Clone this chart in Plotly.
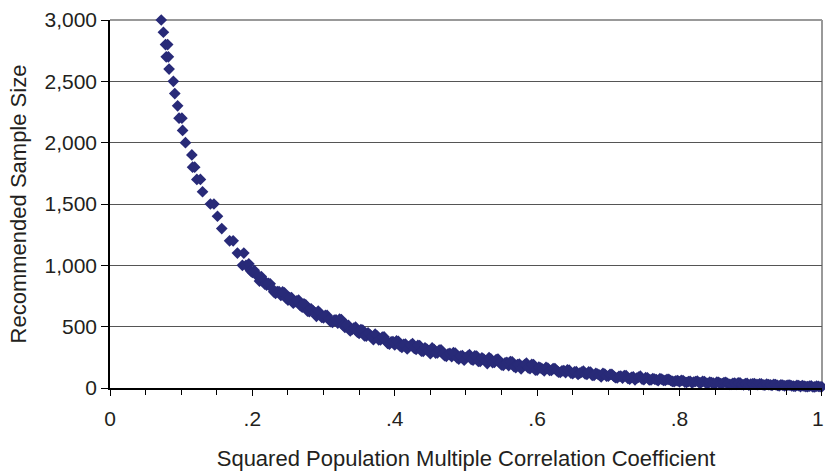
import plotly.graph_objects as go

# Upper discrete points (R^2, recommended N)
upper_x = [0.072, 0.075, 0.078, 0.081, 0.079, 0.082, 0.083, 0.089, 0.091, 0.095,
           0.097, 0.101, 0.102, 0.106, 0.115, 0.116, 0.119, 0.122, 0.127, 0.130,
           0.141, 0.146, 0.151, 0.157, 0.168, 0.173, 0.179, 0.188, 0.186, 0.191]
upper_y = [3000, 2900, 2800, 2800, 2700, 2700, 2600, 2500, 2400, 2300,
           2200, 2200, 2100, 2000, 1900, 1800, 1800, 1700, 1700, 1600,
           1500, 1500, 1400, 1300, 1200, 1200, 1100, 1100, 1000, 1000]

# Dense band of points (first set)
band_x = [0.195, 0.200, 0.205, 0.210, 0.215, 0.220, 0.225, 0.230, 0.235, 0.240,
          0.245, 0.250, 0.255, 0.260, 0.265, 0.270, 0.275, 0.280, 0.285, 0.290,
          0.295, 0.300, 0.305, 0.310, 0.315, 0.320, 0.325, 0.330, 0.335, 0.340,
          0.345, 0.350, 0.355, 0.360, 0.365, 0.370, 0.375, 0.380, 0.385, 0.390,
          0.395, 0.400, 0.405, 0.410, 0.415, 0.420, 0.425, 0.430, 0.435, 0.440,
          0.445, 0.450, 0.455, 0.460, 0.465, 0.470, 0.475, 0.480, 0.485, 0.490,
          0.495, 0.500, 0.505, 0.510, 0.515, 0.520, 0.525, 0.530, 0.535, 0.540,
          0.545, 0.550, 0.555, 0.560, 0.565, 0.570, 0.575, 0.580, 0.585, 0.590,
          0.595, 0.600, 0.605, 0.610, 0.615, 0.620, 0.625, 0.630, 0.635, 0.640,
          0.645, 0.650, 0.655, 0.660, 0.665, 0.670, 0.675, 0.680, 0.685, 0.690,
          0.695, 0.700, 0.705, 0.710, 0.715, 0.720, 0.725, 0.730, 0.735, 0.740,
          0.745, 0.750, 0.755, 0.760, 0.765, 0.770, 0.775, 0.780, 0.785, 0.790,
          0.795, 0.800, 0.805, 0.810, 0.815, 0.820, 0.825, 0.830, 0.835, 0.840,
          0.845, 0.850, 0.855, 0.860, 0.865, 0.870, 0.875, 0.880, 0.885, 0.890,
          0.895, 0.900, 0.905, 0.910, 0.915, 0.920, 0.925, 0.930, 0.935, 0.940,
          0.945, 0.950, 0.955, 0.960, 0.965, 0.970, 0.975, 0.980, 0.985, 0.990,
          0.995, 1.000]
band_y = [1012, 942, 936, 872, 885, 839, 850, 784, 786, 754,
          776, 717, 736, 704, 716, 659, 677, 622, 631, 584,
          611, 572, 592, 540, 554, 529, 558, 494, 510, 478,
          496, 446, 472, 422, 436, 394, 426, 393, 416, 364,
          377, 351, 381, 330, 358, 337, 361, 315, 345, 299,
          318, 280, 316, 286, 312, 263, 279, 255, 285, 236,
          265, 247, 272, 228, 260, 216, 236, 199, 237, 209,
          236, 188, 206, 183, 214, 165, 195, 176, 202, 158,
          190, 146, 164, 140, 162, 143, 159, 130, 140, 126,
          145, 116, 133, 122, 138, 111, 129, 102, 114, 91,
          114, 96, 112, 84, 95, 81, 101, 72, 90, 80,
          96, 69, 83, 67, 73, 60, 73, 62, 71, 54,
          59, 50, 61, 45, 55, 49, 57, 42, 53, 38,
          44, 32, 46, 36, 46, 30, 38, 30, 42, 26,
          37, 31, 36, 27, 34, 24, 27, 22, 28, 18,
          23, 19, 24, 15, 21, 12, 16, 11, 17, 9,
          14, 10]

# Dense band of points (second, interleaved set)
band2_x = [0.1975, 0.2025, 0.2075, 0.2125, 0.2175, 0.2225, 0.2275, 0.2325, 0.2375, 0.2425,
           0.2475, 0.2525, 0.2575, 0.2625, 0.2675, 0.2725, 0.2775, 0.2825, 0.2875, 0.2925,
           0.2975, 0.3025, 0.3075, 0.3125, 0.3175, 0.3225, 0.3275, 0.3325, 0.3375, 0.3425,
           0.3475, 0.3525, 0.3575, 0.3625, 0.3675, 0.3725, 0.3775, 0.3825, 0.3875, 0.3925,
           0.3975, 0.4025, 0.4075, 0.4125, 0.4175, 0.4225, 0.4275, 0.4325, 0.4375, 0.4425,
           0.4475, 0.4525, 0.4575, 0.4625, 0.4675, 0.4725, 0.4775, 0.4825, 0.4875, 0.4925,
           0.4975, 0.5025, 0.5075, 0.5125, 0.5175, 0.5225, 0.5275, 0.5325, 0.5375, 0.5425,
           0.5475, 0.5525, 0.5575, 0.5625, 0.5675, 0.5725, 0.5775, 0.5825, 0.5875, 0.5925,
           0.5975, 0.6025, 0.6075, 0.6125, 0.6175, 0.6225, 0.6275, 0.6325, 0.6375, 0.6425,
           0.6475, 0.6525, 0.6575, 0.6625, 0.6675, 0.6725, 0.6775, 0.6825, 0.6875, 0.6925,
           0.6975, 0.7025, 0.7075, 0.7125, 0.7175, 0.7225, 0.7275, 0.7325, 0.7375, 0.7425,
           0.7475, 0.7525, 0.7575, 0.7625, 0.7675, 0.7725, 0.7775, 0.7825, 0.7875, 0.7925,
           0.7975, 0.8025, 0.8075, 0.8125, 0.8175, 0.8225, 0.8275, 0.8325, 0.8375, 0.8425,
           0.8475, 0.8525, 0.8575, 0.8625, 0.8675, 0.8725, 0.8775, 0.8825, 0.8875, 0.8925,
           0.8975, 0.9025, 0.9075, 0.9125, 0.9175, 0.9225, 0.9275, 0.9325, 0.9375, 0.9425,
           0.9475, 0.9525, 0.9575, 0.9625, 0.9675, 0.9725, 0.9775, 0.9825, 0.9875, 0.9925,
           0.9975]
band2_y = [955, 959, 908, 908, 846, 854, 813, 772, 785, 783,
           732, 737, 691, 711, 671, 686, 627, 646, 611, 626,
           575, 592, 562, 534, 556, 561, 512, 513, 465, 488,
           455, 477, 425, 449, 419, 439, 393, 414, 386, 357,
           379, 384, 341, 355, 318, 350, 322, 348, 300, 328,
           303, 327, 285, 309, 283, 258, 282, 288, 246, 261,
           227, 260, 234, 262, 216, 246, 221, 247, 207, 232,
           208, 184, 209, 216, 175, 191, 156, 190, 164, 192,
           146, 170, 154, 168, 143, 158, 142, 127, 142, 147,
           122, 131, 110, 130, 115, 131, 103, 120, 105, 120,
           96, 111, 96, 82, 98, 102, 78, 87, 67, 88,
           73, 84, 67, 77, 68, 76, 62, 70, 61, 52,
           60, 62, 48, 53, 42, 53, 44, 54, 38, 48,
           40, 49, 36, 45, 37, 29, 40, 43, 29, 35,
           24, 34, 29, 34, 25, 31, 25, 30, 21, 26,
           17, 23, 18, 14, 19, 20, 12, 15, 8, 15,
           10]

x_tickvals = [0, 0.2, 0.4, 0.6, 0.8, 1.0]
x_ticktext = ["0", ".2", ".4", ".6", ".8", ""]
last_tick_label = "1"   # drawn as an annotation so it stays inside the page

COLOR = "#282a78"
TXT = "#231f20"
FONT = "Liberation Sans, Arial, sans-serif"

all_x = upper_x + band_x + band2_x
all_y = upper_y + band_y + band2_y

fig = go.Figure()
fig.add_trace(go.Scatter(
    x=all_x, y=all_y, mode="markers",
    marker=dict(symbol="diamond", size=9, color=COLOR, line=dict(width=0)),
    cliponaxis=False, showlegend=False,
))

fig.update_layout(
    width=825, height=471,
    margin=dict(l=110, r=3, t=20, b=83, autoexpand=False),
    paper_bgcolor="white", plot_bgcolor="white",
    font=dict(family=FONT, size=21, color=TXT),
    xaxis=dict(
        range=[0, 1.0002], tickvals=x_tickvals, ticktext=x_ticktext,
        automargin=False,
        ticks="outside", ticklen=6, tickcolor="black", tickwidth=1,
        ticklabelstandoff=5, ticklabeloverflow="allow",
        showline=True, linecolor="black", linewidth=1.5,
        showgrid=False, zeroline=False,
        minor=dict(dtick=0.05, tick0=0, ticks="outside", ticklen=5,
                   tickcolor="black", tickwidth=1, showgrid=False),
        title=dict(text="Squared Population Multiple Correlation Coefficient",
                   font=dict(size=22, color=TXT), standoff=24),
        tickfont=dict(size=21, color=TXT),
    ),
    yaxis=dict(
        range=[0, 3000], dtick=500, tickformat=",",
        automargin=False,
        ticks="outside", ticklen=7, tickcolor="black", tickwidth=1,
        showline=True, linecolor="black", linewidth=1.5,
        showgrid=True, gridcolor="#555555", gridwidth=1, zeroline=False,
        title=dict(text="Recommended Sample Size",
                   font=dict(size=22, color=TXT), standoff=12),
        tickfont=dict(size=21, color=TXT),
    ),
    annotations=[
        dict(text=last_tick_label, x=x_tickvals[-1], xref="x", y=0, yref="paper",
             xanchor="center", yanchor="middle", xshift=-4, yshift=-30,
             showarrow=False, font=dict(size=21, color=TXT)),
    ],
    shapes=[
        dict(type="line", xref="paper", yref="paper", x0=1, x1=1, y0=0, y1=1,
             line=dict(color="#999999", width=2), layer="below"),
        dict(type="line", xref="paper", yref="paper", x0=0, x1=1, y0=1, y1=1,
             line=dict(color="#999999", width=2), layer="below"),
    ],
)

fig.write_html("out.html")
